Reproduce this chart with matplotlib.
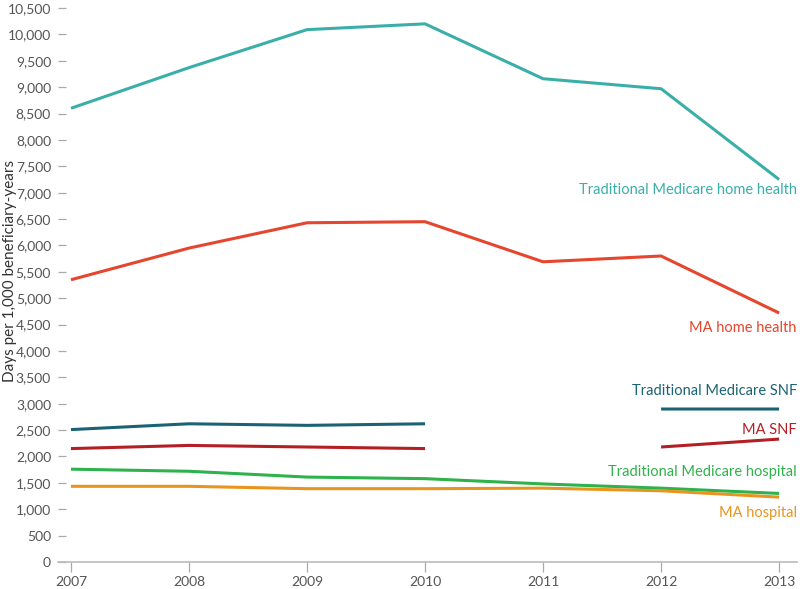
import matplotlib
matplotlib.use("Agg")
import matplotlib.pyplot as plt
import numpy as np

plt.rcParams['font.family'] = ['Lato', 'DejaVu Sans']

years = [2007, 2008, 2009, 2010, 2011, 2012, 2013]

# days per 1,000 beneficiary-years (nan = no data)
tm_home = [8600, 9370, 10090, 10200, 9160, 8970, 7250]
ma_home = [5350, 5950, 6430, 6450, 5690, 5800, 4720]
tm_snf = [2510, 2620, 2590, 2620, np.nan, 2900, 2900]
ma_snf = [2150, 2210, 2180, 2150, np.nan, 2180, 2330]
tm_hosp = [1760, 1720, 1610, 1580, 1480, 1400, 1300]
ma_hosp = [1435, 1435, 1390, 1390, 1400, 1350, 1230]

series = [
    (tm_home, '#3aafa9', 'Traditional Medicare home health', 7050),
    (ma_home, '#e6452e', 'MA home health', 4435),
    (tm_snf, '#1b6374', 'Traditional Medicare SNF', 3240),
    (ma_snf, '#b31f25', 'MA SNF', 2500),
    (tm_hosp, '#2eb24b', 'Traditional Medicare hospital', 1705),
    (ma_hosp, '#e8951f', 'MA hospital', 930),
]

fig = plt.figure(figsize=(8, 5.89), dpi=100)
ax = fig.add_axes([0.0725, 0.0458, 0.9235, 0.9406])

for vals, col, name, ly in series:
    ax.plot(years, vals, color=col, lw=2.2, solid_capstyle='butt')
    ax.text(2013.15, ly, name, color=col, ha='right', va='center', fontsize=10.5)

ax.set_xlim(2006.89, 2013.15)
ax.set_ylim(0, 10500)
ax.set_xticks(years)
ax.set_yticks(np.arange(0, 10501, 500))
ax.set_yticklabels([f'{v:,}' for v in range(0, 10501, 500)])

for s in ['top', 'right', 'left']:
    ax.spines[s].set_visible(False)
ax.spines['bottom'].set_color('#bbbbbb')
ax.spines['bottom'].set_linewidth(1.2)

ax.tick_params(axis='y', direction='in', length=6, width=0.9, color='#aaaaaa',
               labelcolor='#555555', labelsize=10, pad=5)
ax.tick_params(axis='x', direction='out', length=7, width=0.9, color='#aaaaaa',
               labelcolor='#555555', labelsize=10, pad=3)

fig.text(0.013, 1 - 271 / 589, 'Days per 1,000 beneficiary-years', rotation=90,
         ha='center', va='center', fontsize=11, color='#333333')

fig.savefig('out.png', dpi=100)
